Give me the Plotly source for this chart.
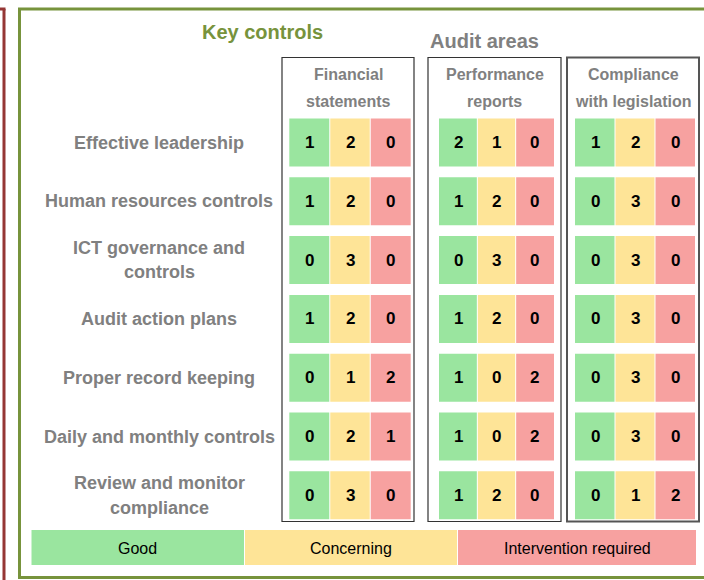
import plotly.graph_objects as go

# ---------------- data ----------------
controls = ["Effective leadership", "Human resources controls", "ICT governance and<br>controls",
            "Audit action plans", "Proper record keeping", "Daily and monthly controls",
            "Review and monitor<br>compliance"]
areas = ["Financial<br>statements", "Performance<br>reports", "Compliance<br>with legislation"]
ratings = ["Good", "Concerning", "Intervention required"]

fin_good = [1, 1, 0, 1, 0, 0, 0]
fin_conc = [2, 2, 3, 2, 1, 2, 3]
fin_int = [0, 0, 0, 0, 2, 1, 0]
perf_good = [2, 1, 0, 1, 1, 1, 1]
perf_conc = [1, 2, 3, 2, 0, 0, 2]
perf_int = [0, 0, 0, 0, 2, 2, 0]
comp_good = [1, 0, 0, 0, 0, 0, 0]
comp_conc = [2, 3, 3, 3, 3, 3, 1]
comp_int = [0, 0, 0, 0, 0, 0, 2]

title_left = "Key controls"
title_right = "Audit areas"

# ---------------- styles / layout constants ----------------
W, H = 704, 580
COLORS = ["#9AE59F", "#FEE497", "#F7A1A0"]
GRAY = "#808080"
OLIVE = "#77933C"
MAROON = "#953735"
SANS = "Liberation Sans, Arial, sans-serif"

series = [[fin_good, fin_conc, fin_int], [perf_good, perf_conc, perf_int], [comp_good, comp_conc, comp_int]]

box_x = [(282, 414), (428, 561), (567, 699)]
cell_x = [(289.3, 410.7), (439, 554), (575, 695)]
box_top, box_bot = 57.5, 521.5
row0, pitch, cell_h = 118.5, 58.8, 48
label_cx = 159

fig = go.Figure()
shapes = []
ann = []

# frames
shapes.append(dict(type="line", x0=4, x1=4, y0=9, y1=H + 5, line=dict(color=MAROON, width=3)))
shapes.append(dict(type="line", x0=-2, x1=5.5, y0=9, y1=9, line=dict(color=MAROON, width=3)))
shapes.append(dict(type="rect", x0=19.5, x1=W + 10, y0=9, y1=577.5, line=dict(color=OLIVE, width=3)))

# titles
ann.append(dict(x=262, y=32, text=f"<b>{title_left}</b>", font=dict(family=SANS, size=20, color=OLIVE)))
ann.append(dict(x=484, y=41, text=f"<b>{title_right}</b>", font=dict(family=SANS, size=20, color=GRAY)))

# area boxes and headers
for a, name in enumerate(areas):
    bx0, bx1 = box_x[a]
    shapes.append(dict(type="rect", x0=bx0, x1=bx1, y0=box_top, y1=box_bot,
                       line=dict(color="#555555" if a == 2 else "#333333", width=2 if a == 2 else 1.2)))
    for li, line in enumerate(name.split("<br>")):
        ann.append(dict(x=(bx0 + bx1) / 2, y=74.5 + 27 * li, text=f"<b>{line}</b>",
                        font=dict(family=SANS, size=16, color=GRAY)))
    cx0, cx1 = cell_x[a]
    cw = (cx1 - cx0) / 3
    for r in range(len(controls)):
        y0 = row0 + pitch * r
        for k in range(3):
            v = series[a][k][r]
            x0 = cx0 + cw * k
            shapes.append(dict(type="rect", x0=x0 + (0.5 if k else 0), x1=x0 + cw - (0.5 if k < 2 else 0),
                               y0=y0, y1=y0 + cell_h, line=dict(width=0), fillcolor=COLORS[k], layer="below"))
            ann.append(dict(x=x0 + cw / 2, y=y0 + cell_h / 2, text=f"<b>{v}</b>",
                            font=dict(family=SANS, size=17, color="#000000")))

# row labels
for r, lab in enumerate(controls):
    lines = lab.split("<br>")
    cy = row0 + pitch * r + cell_h / 2
    n = len(lines)
    for li, line in enumerate(lines):
        ann.append(dict(x=label_cx, y=cy + (li - (n - 1) / 2) * 24.5, text=f"<b>{line}</b>",
                        font=dict(family=SANS, size=18, color=GRAY)))

# legend bar
leg_x = [(31.5, 244), (245, 457), (458, 696)]
for k, name in enumerate(ratings):
    x0, x1 = leg_x[k]
    shapes.append(dict(type="rect", x0=x0, x1=x1, y0=530, y1=565, line=dict(width=0),
                       fillcolor=COLORS[k], layer="below"))
    ann.append(dict(x=(x0 + x1) / 2, y=548, text=name, font=dict(family=SANS, size=16, color="#000000")))

for a_ in ann:
    a_.update(xref="x", yref="y", showarrow=False, xanchor="center", yanchor="middle")

fig.add_trace(go.Scatter(x=[0, W], y=[0, H], mode="markers", marker=dict(opacity=0), hoverinfo="skip",
                         showlegend=False))
fig.update_layout(width=W, height=H, margin=dict(l=0, r=0, t=0, b=0),
                  paper_bgcolor="white", plot_bgcolor="white", shapes=shapes, annotations=ann,
                  xaxis=dict(range=[0, W], visible=False, fixedrange=True),
                  yaxis=dict(range=[H, 0], visible=False, fixedrange=True),
                  showlegend=False)
fig.write_html("out.html", config=dict(displayModeBar=False),
               post_script="document.body.style.margin='0px';document.body.style.overflow='hidden';")
